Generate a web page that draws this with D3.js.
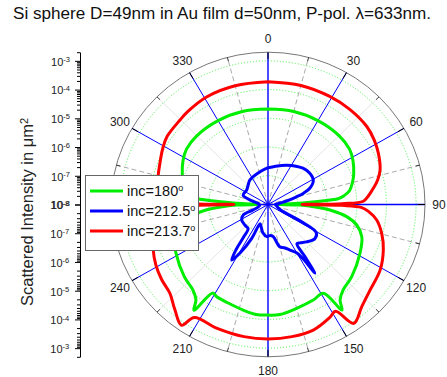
<!DOCTYPE html>
<html><head><meta charset="utf-8">
<script src="https://cdn.jsdelivr.net/npm/d3@7"></script>
<style>body{margin:0;background:#fff} svg{display:block} text{font-family:"Liberation Sans",Arial,sans-serif}</style>
</head><body><svg id="c" width="447" height="377"></svg>
<script>
// ---------- data ----------
const titleText = "Si sphere D=49nm in Au film d=50nm, P-pol. \u03bb=633nm.";
const yTitleText = "Scattered Intensity in \u03bcm";
const angleTicks = [0,30,60,90,120,150,180,210,240,270,300,330];
const angleLabels = ["0","30","60","90","120","150","180","210","240","","300","330"];
const minorAngles = [15,45,75,105,135,165,195,225,255,285,315,345];
const dashedAngles = [15,75,105,165,195,255,285,345];
const radialMajor = [1e-8,1e-7,1e-6,1e-5,1e-4,1e-3];
const radialMax = 2e-3;
const seriesNames = ["inc=180", "inc=212.5", "inc=213.7"];
const seriesColors = ["#00ee00", "#0000ff", "#ff0000"];

// inc=180 : angle (deg) and log10 intensity
const greenAngles = [0,15,30,45,55,62,70,75,80,83,85,86.5,88,90,91,93,95.2,99,103.4,109.5,118.7,131.6,139.6,143.8,145.8,148.8,155.3,165,174,180,
  186,192.8,202,208.3,211.2,214.2,216.2,220.4,228.4,241.3,250.5,256.6,261,264.8,267,269,270,272,273.5,275,277,280,285,290,298,305,315,330,345,360];
const greenLog = [-4.68,-4.65,-4.63,-4.61,-4.64,-4.75,-4.92,-5.05,-5.20,-5.40,-5.60,-6.50,-7.10,-7.65,-6.95,-6.40,-5.90,-5.31,-4.92,-4.64,-4.46,-4.22,-4.09,-3.88,-3.56,-4.39,-4.34,-4.26,-4.15,-4.15,
  -4.15,-4.23,-4.32,-4.35,-4.40,-3.55,-3.88,-4.09,-4.22,-4.46,-4.64,-4.92,-5.31,-5.90,-6.40,-6.95,-7.65,-7.10,-6.50,-5.60,-5.40,-5.20,-5.05,-4.92,-4.75,-4.64,-4.61,-4.63,-4.65,-4.68];

// inc=212.5
const blueAngles = [0,8,25,43,52,61,68,72,74.4,78,82,86,90,100,110,115,118,121,127,135,141,144.5,145.5,146.5,147.5,150,155,160,165,171,176,182,190,197,202,205,209,212.4,214.5,216,218.5,227,238.8,246.4,249,255,265,275,283,291,305,315,324.5,346.7,360];
const blueLog = [-6.72,-6.67,-6.49,-6.27,-6.22,-6.25,-6.47,-6.75,-7.00,-7.30,-7.55,-7.68,-7.75,-7.70,-7.62,-7.50,-6.65,-6.10,-6.02,-6.16,-6.28,-6.32,-5.80,-5.13,-5.65,-6.05,-6.25,-6.40,-6.48,-6.87,-6.92,-6.88,-7.00,-7.20,-7.28,-6.70,-6.10,-5.71,-6.10,-6.60,-6.92,-6.94,-6.96,-7.09,-7.45,-7.65,-7.72,-7.68,-7.45,-7.10,-7.12,-7.05,-6.95,-6.83,-6.72];

// inc=213.7
const redAngles = [0,15,29,40,51,58,64.5,72.4,77,81,85,88,89.3,90,90.7,91.8,94,98.4,105,112,121,131,138.3,145,148.5,152,160.7,170,180,
  190,202,212.3,214.8,220.6,227,234,241,248,255,261.6,266,268.2,269.3,270,270.7,272,275,279,283,291.4,299.6,305,314.7,320,331,345,360];
const redLog = [-3.73,-3.71,-3.70,-3.69,-3.70,-3.77,-3.87,-4.03,-4.20,-4.40,-4.60,-4.78,-5.50,-6.85,-5.50,-4.85,-4.60,-4.29,-4.02,-3.80,-3.58,-3.44,-3.24,-2.95,-3.64,-3.55,-3.37,-3.33,-3.32,
  -3.33,-3.36,-3.35,-2.88,-3.17,-3.47,-3.56,-3.67,-3.82,-4.02,-4.29,-4.60,-4.85,-5.50,-6.85,-5.50,-4.78,-4.60,-4.40,-4.20,-4.08,-3.93,-3.85,-3.82,-3.78,-3.72,-3.72,-3.73];

// ---------- drawing ----------
const svg = d3.select("#c");
const CX = 268, CY = 204.5, RX = 157, RY = 152.3;
const rs = d3.scaleLog().domain([radialMajor[0], radialMax]).range([0, 1]).clamp(true);
const E = (deg, f) => { const a = deg * Math.PI / 180; return [CX + RX * f * Math.sin(a), CY - RY * f * Math.cos(a)]; };

const grid = svg.append("g");
grid.selectAll("ellipse.ring").data(radialMajor.slice(1)).join("ellipse")
  .attr("cx", CX).attr("cy", CY).attr("rx", d => RX * rs(d)).attr("ry", d => RY * rs(d))
  .attr("fill", "none").attr("stroke", "#33ee33").attr("stroke-width", 0.9).attr("stroke-dasharray", "1,2");
grid.selectAll("line.mn").data(minorAngles).join("line")
  .attr("x1", CX).attr("y1", CY).attr("x2", d => E(d, 1)[0]).attr("y2", d => E(d, 1)[1])
  .attr("stroke", d => dashedAngles.includes(d) ? "#aaaaaa" : "#e6e6e6")
  .attr("stroke-width", 1).attr("stroke-dasharray", d => dashedAngles.includes(d) ? "5,3" : null);
grid.selectAll("line.mj").data(angleTicks).join("line")
  .attr("x1", CX).attr("y1", CY).attr("x2", d => E(d, 1)[0]).attr("y2", d => E(d, 1)[1])
  .attr("stroke", "#0000ff").attr("stroke-width", d => d % 90 === 0 ? 1.4 : 1);
grid.append("ellipse").attr("cx", CX).attr("cy", CY).attr("rx", RX).attr("ry", RY)
  .attr("fill", "none").attr("stroke", "#777").attr("stroke-width", 1);
grid.selectAll("line.tk").data(angleTicks).join("line")
  .attr("x1", d => E(d, 1)[0]).attr("y1", d => E(d, 1)[1])
  .attr("x2", d => E(d, 1 - 7 / 154)[0]).attr("y2", d => E(d, 1 - 7 / 154)[1])
  .attr("stroke", "#000").attr("stroke-width", 1);
grid.selectAll("line.tm").data(minorAngles).join("line")
  .attr("x1", d => E(d, 1)[0]).attr("y1", d => E(d, 1)[1])
  .attr("x2", d => E(d, 1 - 4 / 154)[0]).attr("y2", d => E(d, 1 - 4 / 154)[1])
  .attr("stroke", "#333").attr("stroke-width", 1);
grid.selectAll("text.al").data(angleTicks).join("text")
  .attr("x", (d) => { const a = d * Math.PI / 180; return CX + (RX + 14) * Math.sin(a); })
  .attr("y", (d) => { const a = d * Math.PI / 180; return CY - (RY + 14) * Math.cos(a); })
  .attr("dy", "0.36em").attr("text-anchor", "middle").attr("font-size", "12px").attr("fill", "#222")
  .text((d, i) => angleLabels[i]);

// curves
const series = [
  {a: greenAngles, l: greenLog},
  {a: blueAngles, l: blueLog},
  {a: redAngles, l: redLog}
];
const line = d3.line()
  .x(d => E(d[0], rs(Math.pow(10, d[1])))[0])
  .y(d => E(d[0], rs(Math.pow(10, d[1])))[1])
  .curve(d3.curveCatmullRom.alpha(0.5));
series.forEach((s, i) => {
  const pts = s.a.map((a, k) => [a, s.l[k]]);
  svg.append("path").attr("d", line(pts)).attr("fill", "none")
    .attr("stroke", seriesColors[i]).attr("stroke-width", 3).attr("stroke-linejoin", "round");
});

// left radial axis (mirrored)
const AX = 80;
const minorVals = [];
for (let e = -8; e <= -4; e++) for (let k = 2; k <= 9; k++) minorVals.push(k * Math.pow(10, e));
minorVals.push(radialMax);
function drawAxis(range, shift) {
  const sc = d3.scaleLog().domain([radialMajor[0], radialMax]).range(range);
  const gmin = svg.append("g").attr("transform", `translate(${AX},0)`)
    .call(d3.axisLeft(sc).tickValues(minorVals).tickSize(3).tickSizeOuter(0).tickFormat(""));
  const g = svg.append("g").attr("transform", `translate(${AX},0)`)
    .call(d3.axisLeft(sc).tickValues(radialMajor).tickSize(5).tickSizeOuter(0).tickPadding(5));
  [gmin, g].forEach(x => { x.select(".domain").attr("stroke", "#000"); x.selectAll(".tick line").attr("stroke", "#000"); });
  g.selectAll(".tick text").each(function (d) {
    const t = d3.select(this);
    t.text(null).attr("font-size", "11px").attr("fill", "#222").attr("x", -10 + shift).attr("dy", "0.4em");
    t.append("tspan").text("10");
    t.append("tspan").attr("dy", "-0.5em").attr("font-size", "7.5px").text(String(Math.round(Math.log10(d))));
  });
  gmin.attr("font-family", null);
  g.attr("font-family", null);
}
drawAxis([CY, CY - RY], 0);
drawAxis([CY, CY + RY], -0.8);

// y title
const yt = svg.append("text").attr("transform", `translate(33,212) rotate(-90)`)
  .attr("text-anchor", "middle").attr("font-size", "16.5px").attr("fill", "#222");
yt.append("tspan").text(yTitleText);
yt.append("tspan").attr("dy", "-0.5em").attr("font-size", "11px").text("2");

// title
svg.append("text").attr("x", 222).attr("y", 19).attr("text-anchor", "middle")
  .attr("font-size", "16px").attr("textLength", 418).attr("lengthAdjust", "spacingAndGlyphs")
  .attr("fill", "#111").text(titleText);

// legend
const lg = svg.append("g");
lg.append("rect").attr("x", 85.5).attr("y", 175.5).attr("width", 113).attr("height", 75)
  .attr("fill", "#fff").attr("stroke", "#666").attr("stroke-width", 1);
seriesNames.forEach((n, i) => {
  const y = 191 + i * 20;
  lg.append("line").attr("x1", 90).attr("x2", 123).attr("y1", y).attr("y2", y)
    .attr("stroke", seriesColors[i]).attr("stroke-width", 3);
  const t = lg.append("text").attr("x", 127).attr("y", y + 5).attr("font-size", "14.5px").attr("fill", "#111");
  t.append("tspan").text(n);
  t.append("tspan").attr("dy", "-0.55em").attr("font-size", "9px").text("o");
});
</script></body></html>
